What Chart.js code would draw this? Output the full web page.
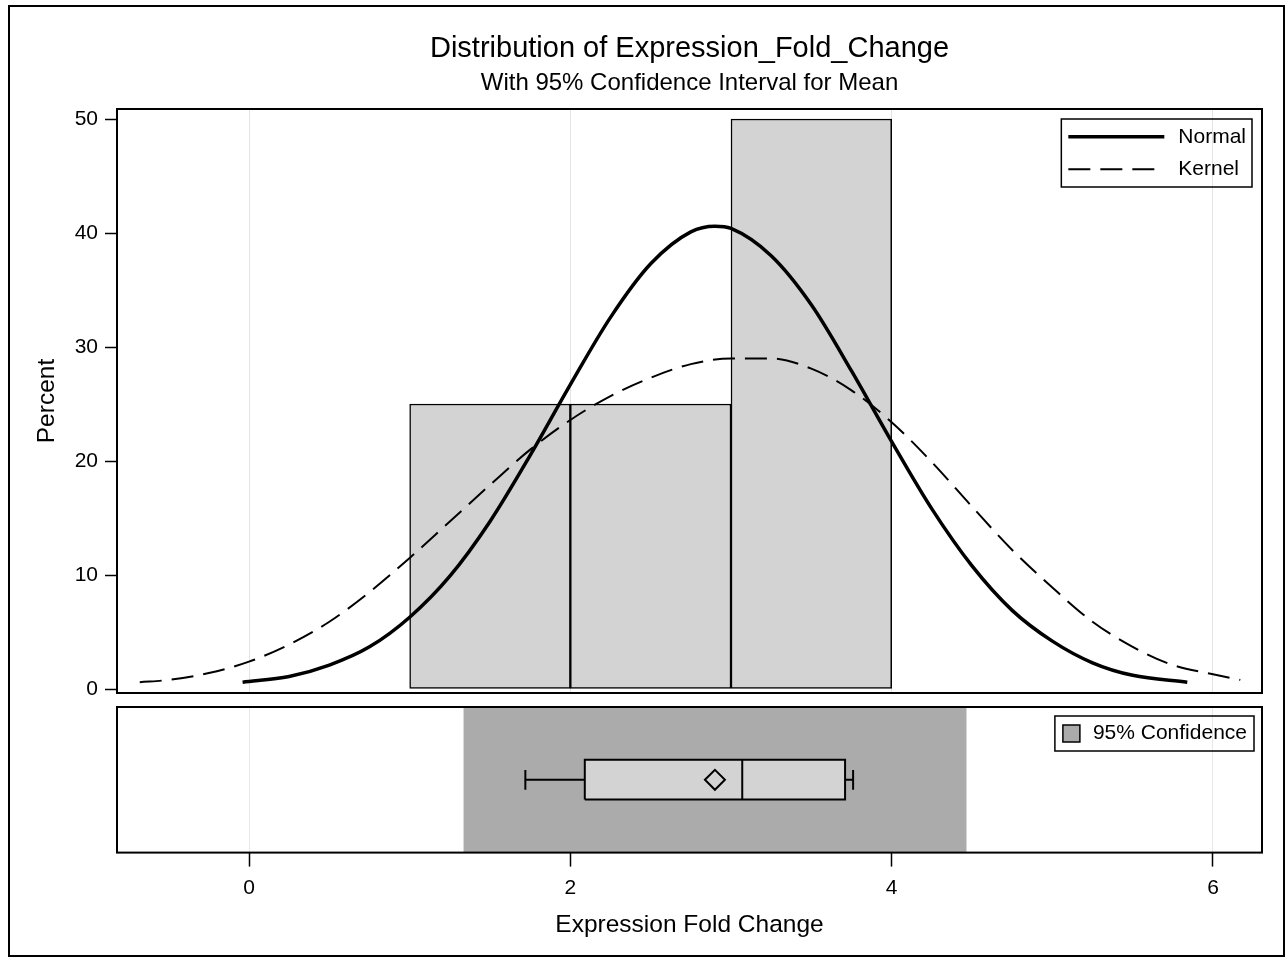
<!DOCTYPE html>
<html>
<head>
<meta charset="utf-8">
<title>Distribution of Expression_Fold_Change</title>
<script src="https://cdn.jsdelivr.net/npm/chart.js@4.4.1/dist/chart.umd.min.js"></script>
<style>
  html, body { margin: 0; padding: 0; background: #fff; }
  #page { position: relative; width: 1285px; height: 960px; overflow: hidden; background: #fff; }
  #frame { position: absolute; left: 8px; top: 5px; width: 1273px; height: 948px; border: 2px solid #000; }
  #histCanvas { position: absolute; left: 0; top: 0; }
  #boxCanvas { position: absolute; left: 0; top: 695px; }
</style>
</head>
<body>
<div id="page">
  <div id="frame"></div>
  <canvas id="histCanvas" width="1285" height="713"></canvas>
  <canvas id="boxCanvas" width="1285" height="265"></canvas>
</div>
<script>
// ---- data ----
const xTickValues = [0, 2, 4, 6];
const yTickValues = [0, 10, 20, 30, 40, 50];

// histogram: bin midpoints (bin width 1) and percent of observations
const binMids = [1.5, 2.5, 3.5];
const binPercents = [25, 25, 50];

// fitted normal density curve (percent scale)
const normalX   = [-0.04, 0.25, 0.5, 0.75, 1.0, 1.25, 1.5, 1.75, 2.0, 2.25, 2.5, 2.75, 2.9, 3.0, 3.25, 3.5, 3.75, 4.0, 4.25, 4.5, 4.75, 5.0, 5.25, 5.5, 5.84];
const normalPct = [0.6, 1.1, 2.1, 3.7, 6.3, 9.9, 14.7, 20.5, 26.7, 32.6, 37.3, 40.1, 40.6, 40.4, 38.0, 33.7, 27.9, 21.7, 15.8, 10.8, 6.9, 4.2, 2.3, 1.2, 0.6];

// kernel density estimate (percent scale)
const kernelX   = [-0.68, -0.5, -0.25, 0, 0.25, 0.5, 0.75, 1, 1.25, 1.5, 1.75, 2, 2.25, 2.5, 2.75, 3, 3.25, 3.5, 3.75, 4, 4.25, 4.5, 4.75, 5, 5.25, 5.5, 5.75, 6, 6.17];
const kernelPct = [0.6, 0.8, 1.4, 2.4, 3.9, 5.9, 8.5, 11.5, 14.7, 17.9, 21.0, 23.6, 25.7, 27.3, 28.5, 29.0, 29.0, 28.1, 26.2, 23.4, 19.9, 16.0, 12.2, 8.9, 5.9, 3.7, 2.1, 1.3, 0.8];

// box plot: min, Q1, median, Q3, max; mean; 95% CI for the mean
const boxStats = [1.72, 2.09, 3.07, 3.71, 3.76];
const meanValue = 2.90;
const ciLimits = [1.334, 4.467];

// ---- shared look ----
const FONT = "'Liberation Sans', Arial, Helvetica, sans-serif";
Chart.defaults.font.family = FONT;
Chart.defaults.color = '#000';
Chart.defaults.animation = false;

const X_MIN = -0.8216, X_MAX = 6.305;
const setXTicks = s => { s.ticks = xTickValues.map(v => ({ value: v })); };
const setYTicks = s => { s.ticks = yTickValues.map(v => ({ value: v })); };

// black rectangle around the plotting area
const plotFrame = {
  id: 'plotFrame',
  afterDraw(chart) {
    const { ctx, chartArea: a } = chart;
    ctx.save();
    ctx.strokeStyle = '#000';
    ctx.lineWidth = 2;
    ctx.strokeRect(a.left, a.top, a.right - a.left, a.bottom - a.top);
    ctx.restore();
  }
};

// boxed legend in the upper-right corner of the plotting area
const insetLegend = {
  id: 'insetLegend',
  defaults: { fontSize: 21, padLeft: 7, symbolWidth: 96, gap: 14, padRight: 6, rowHeight: 32.5, padY: 1.5, insetRight: 10, insetTop: 10 },
  afterDraw(chart, args, o) {
    const items = chart.data.datasets.filter(ds => ds.legendSymbol);
    if (!items.length) return;
    const { ctx, chartArea: a } = chart;
    ctx.save();
    ctx.font = o.fontSize + 'px ' + FONT;
    const textW = Math.max(...items.map(ds => ctx.measureText(ds.label).width));
    const w = o.padLeft + o.symbolWidth + o.gap + textW + o.padRight;
    const h = items.length * o.rowHeight + 2 * o.padY;
    const x = a.right - o.insetRight - w;
    const y = a.top + o.insetTop;
    ctx.strokeStyle = '#000';
    ctx.lineWidth = 1.5;
    ctx.strokeRect(x, y, w, h);
    ctx.textBaseline = 'middle';
    ctx.textAlign = 'left';
    items.forEach((ds, i) => {
      const cy = y + o.padY + o.rowHeight * (i + 0.5);
      const sx = x + o.padLeft;
      if (ds.legendSymbol === 'line') {
        ctx.save();
        ctx.lineWidth = ds.borderWidth;
        ctx.setLineDash(ds.borderDash || []);
        ctx.strokeStyle = ds.borderColor;
        ctx.beginPath();
        ctx.moveTo(sx, cy);
        ctx.lineTo(sx + o.symbolWidth, cy);
        ctx.stroke();
        ctx.restore();
      } else {
        const s = o.symbolWidth;
        ctx.fillStyle = ds.backgroundColor;
        ctx.fillRect(sx, cy - s / 2, s, s);
        ctx.lineWidth = 1.5;
        ctx.strokeRect(sx, cy - s / 2, s, s);
      }
      ctx.fillStyle = '#000';
      ctx.fillText(ds.label, sx + o.symbolWidth + o.gap, cy);
    });
    ctx.restore();
  }
};

// ---- histogram with density curves ----
new Chart(document.getElementById('histCanvas'), {
  type: 'bar',
  data: {
    datasets: [
      {
        type: 'line', label: 'Normal', legendSymbol: 'line',
        data: normalX.map((x, i) => ({ x, y: normalPct[i] })),
        borderColor: '#000', borderWidth: 3.5, pointRadius: 0,
        cubicInterpolationMode: 'monotone', fill: false, order: 1
      },
      {
        type: 'line', label: 'Kernel', legendSymbol: 'line',
        data: kernelX.map((x, i) => ({ x, y: kernelPct[i] })),
        borderColor: '#000', borderWidth: 2, borderDash: [22, 10], pointRadius: 0,
        cubicInterpolationMode: 'monotone', fill: false, order: 2
      },
      {
        type: 'bar', label: 'Percent',
        data: binMids.map((x, i) => ({ x, y: binPercents[i] })),
        backgroundColor: '#d3d3d3', borderColor: '#000', borderWidth: 1.5,
        borderSkipped: false, barPercentage: 1, categoryPercentage: 1, order: 3
      }
    ]
  },
  options: {
    responsive: false,
    animation: false,
    devicePixelRatio: 1,
    events: [],
    layout: { padding: { left: 0, right: 23, top: 0, bottom: 20 } },
    plugins: {
      legend: { display: false },
      tooltip: { enabled: false },
      title: {
        display: true, fullSize: false,
        text: 'Distribution of Expression_Fold_Change',
        font: { size: 29, weight: 'normal' }, color: '#000',
        padding: { top: 31.6, bottom: 0 }
      },
      subtitle: {
        display: true, fullSize: false,
        text: 'With 95% Confidence Interval for Mean',
        font: { size: 24, weight: 'normal' }, color: '#000',
        padding: { top: 2.7, bottom: 11.1 }
      },
      insetLegend: { fontSize: 21, padLeft: 7, symbolWidth: 96, gap: 14, padRight: 6, rowHeight: 32.5, padY: 1.5, insetRight: 10, insetTop: 10 }
    },
    scales: {
      x: {
        type: 'linear', min: X_MIN, max: X_MAX, offset: false,
        grid: { offset: false, color: '#e3e3e3', lineWidth: 1, drawTicks: false },
        border: { display: false },
        ticks: { display: false },
        afterBuildTicks: setXTicks,
        afterFit: s => { s.height = 0; }
      },
      y: {
        type: 'linear', min: -0.35, max: 50.88,
        grid: { drawOnChartArea: false, tickLength: 12, tickColor: '#000', tickWidth: 1.5 },
        border: { display: false },
        ticks: { font: { size: 21 }, padding: 7, color: '#000', callback: v => String(v) },
        title: { display: true, text: 'Percent', font: { size: 24.5 }, color: '#000', padding: { top: 32.8, bottom: 0 } },
        afterBuildTicks: setYTicks,
        afterFit: s => { s.width = 117; }
      }
    }
  },
  plugins: [plotFrame, insetLegend]
});

// ---- box plot panel with confidence band ----
const [bMin, bQ1, bMed, bQ3, bMax] = boxStats;
const BOX_LO = 0.365, BOX_HI = 0.637, CAP_LO = 0.432, CAP_HI = 0.568, MID = 0.5;
const gap = x => ({ x, y: null });

new Chart(document.getElementById('boxCanvas'), {
  type: 'scatter',
  data: {
    datasets: [
      {
        type: 'line', label: '95% Confidence', legendSymbol: 'box',
        data: ciLimits.map(x => ({ x, y: 1 })),
        fill: 'origin', backgroundColor: '#ababab',
        borderColor: 'rgba(0,0,0,0)', borderWidth: 0, pointRadius: 0, order: 5
      },
      {
        type: 'line', label: 'Box fill',
        data: [{ x: bQ1, y: BOX_HI }, { x: bQ3, y: BOX_HI }],
        fill: { value: BOX_LO }, backgroundColor: '#d3d3d3',
        borderColor: 'rgba(0,0,0,0)', borderWidth: 0, pointRadius: 0, order: 4
      },
      {
        type: 'line', label: 'Box outline',
        data: [
          { x: bQ1, y: BOX_LO }, { x: bQ3, y: BOX_LO }, { x: bQ3, y: BOX_HI }, { x: bQ1, y: BOX_HI }, { x: bQ1, y: BOX_LO },
          gap(bQ1),
          { x: bMed, y: BOX_LO }, { x: bMed, y: BOX_HI },
          gap(bMed),
          { x: bMin, y: MID }, { x: bQ1, y: MID },
          gap(bQ1),
          { x: bMin, y: CAP_LO }, { x: bMin, y: CAP_HI },
          gap(bMin),
          { x: bQ3, y: MID }, { x: bMax, y: MID },
          gap(bMax),
          { x: bMax, y: CAP_LO }, { x: bMax, y: CAP_HI }
        ],
        spanGaps: false, fill: false,
        borderColor: '#000', borderWidth: 2, pointRadius: 0, order: 3
      },
      {
        type: 'scatter', label: 'Mean',
        data: [{ x: meanValue, y: MID }],
        pointStyle: 'rectRot', pointRadius: 10, borderWidth: 2,
        borderColor: '#000', backgroundColor: 'rgba(0,0,0,0)', order: 1
      }
    ]
  },
  options: {
    responsive: false,
    animation: false,
    devicePixelRatio: 1,
    events: [],
    layout: { padding: { left: 117, right: 23, top: 10, bottom: 20 } },
    plugins: {
      legend: { display: false },
      tooltip: { enabled: false },
      insetLegend: { fontSize: 21, padLeft: 8, symbolWidth: 17, gap: 13, padRight: 7, rowHeight: 32, padY: 1.5, insetRight: 8, insetTop: 9 }
    },
    scales: {
      x: {
        type: 'linear', min: X_MIN, max: X_MAX, offset: false, z: 1,
        grid: { offset: false, color: 'rgba(0,0,0,0.09)', lineWidth: 1, tickColor: '#000', tickLength: 14, tickWidth: 1.5 },
        border: { display: false },
        ticks: { font: { size: 21 }, padding: 9.4, color: '#000', callback: v => String(v) },
        title: { display: true, text: 'Expression Fold Change', font: { size: 24.5 }, color: '#000', padding: { top: 0, bottom: 0 } },
        afterBuildTicks: setXTicks
      },
      y: { type: 'linear', min: 0, max: 1, display: false }
    }
  },
  plugins: [plotFrame, insetLegend]
});
</script>
</body>
</html>
